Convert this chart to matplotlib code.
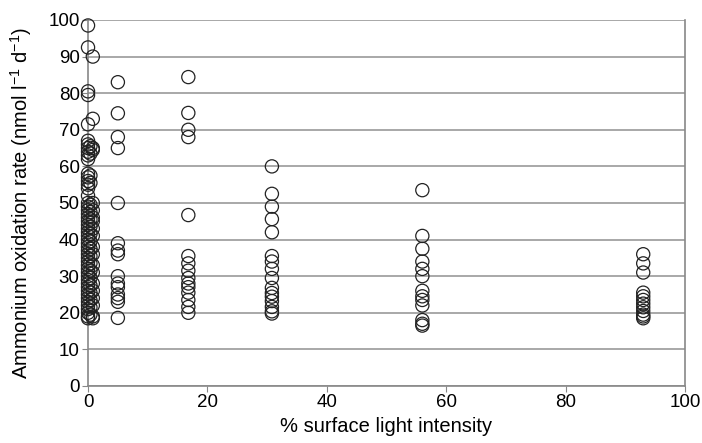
import matplotlib
matplotlib.use('Agg')
import matplotlib.pyplot as plt

plt.rcParams['font.family'] = ['Liberation Sans', 'DejaVu Sans']
plt.rcParams['mathtext.fontset'] = 'custom'
plt.rcParams['mathtext.rm'] = 'Liberation Sans'
plt.rcParams['mathtext.it'] = 'Liberation Sans'
plt.rcParams['mathtext.default'] = 'regular'

# light level (% of surface) -> measured rates
light_0 = [98.5, 92.5, 80.5, 79.5, 71.5, 67, 66, 65, 64, 63, 62, 58, 57, 56, 55,
           54, 52, 50, 49, 48, 47, 46, 45, 44, 43, 42, 41, 40, 39, 38, 37, 36,
           35, 34, 33, 32, 31, 30, 29, 28, 27, 26, 25, 24, 23, 22, 21, 20, 19, 18.5]
light_0b = [65.5, 63.5, 57.5, 55.5, 49.5, 47.5, 45.5, 43.5, 41.5, 39.5, 37.5,
            35.5, 33.5, 31.5, 29.5, 27.5, 25.5, 23.5, 21.5, 19.5]
light_1 = [90, 73, 65, 64.5, 50, 48, 46, 45, 43, 41, 38, 36, 33, 31, 28, 26,
           24, 22, 19, 18.5]
light_5 = [83, 74.5, 68, 65, 50, 39, 37, 36, 30, 28, 27, 25, 24, 23, 18.6]
light_17 = [84.4, 74.6, 70, 68, 46.7, 35.5, 33.5, 31.5, 29.5, 28, 27, 25.5, 23.5, 21.6, 20]
light_31 = [60, 52.5, 49, 45.6, 42, 35.5, 34, 32, 29.5, 26.8, 25.4, 24.4, 23.2,
            21.6, 20.4, 19.8]
light_56 = [53.5, 41, 37.5, 34, 32, 30, 26, 24.5, 23.5, 22, 18, 17, 16.5]
light_93 = [36, 33.5, 31, 25.5, 24.5, 23.5, 22.5, 21.5, 20.5, 19.5, 19, 18.5]

groups = {0: light_0, 0.4: light_0b, 0.8: light_1, 5: light_5, 16.8: light_17,
          30.8: light_31, 56: light_56, 93: light_93}

fig = plt.figure(figsize=(7.02, 4.43), dpi=100)
ax = fig.add_axes([0.1254, 0.1287, 0.8504, 0.8262])

for x, vals in groups.items():
    ax.scatter([x] * len(vals), vals, s=90, facecolors='none', edgecolors='#222222',
               linewidths=0.9, zorder=3, clip_on=False)

ax.set_xlim(0, 100)
ax.set_ylim(0, 100)
ax.set_xticks(range(0, 101, 20))
ax.set_yticks(range(0, 101, 10))
ax.yaxis.grid(True, color='#999999', linewidth=1.2)
ax.set_axisbelow(True)

for side in ['left', 'bottom', 'right']:
    ax.spines[side].set_color('#888888')
    ax.spines[side].set_linewidth(1.2)
ax.spines['top'].set_visible(False)

ax.tick_params(axis='both', direction='out', length=4, color='#888888',
               labelsize=13.5, pad=2)
ax.set_xlabel('% surface light intensity', fontsize=14.5, labelpad=4)
ax.set_ylabel('Ammonium oxidation rate (nmol l$^{-1}$ d$^{-1}$)', fontsize=14.5, labelpad=10)

fig.savefig('out.png', dpi=100)
